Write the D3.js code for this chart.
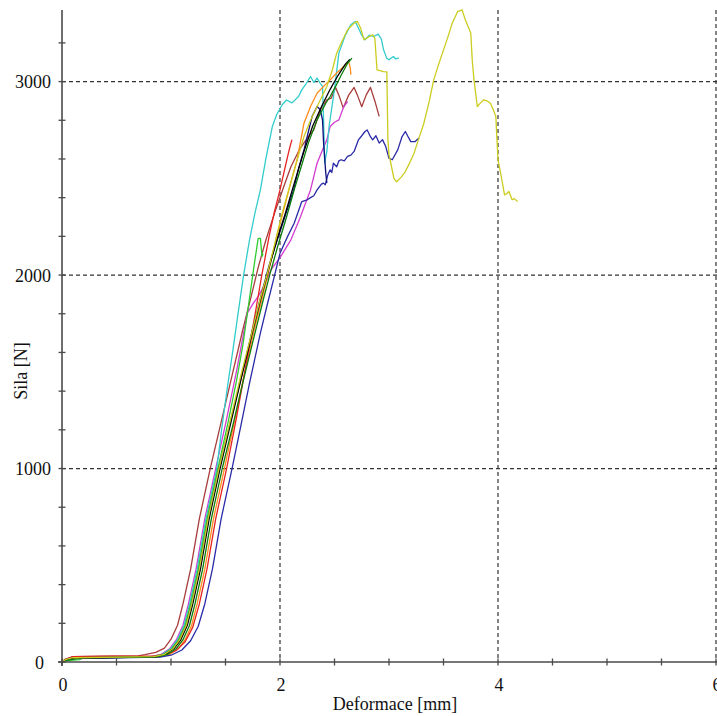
<!DOCTYPE html>
<html>
<head>
<meta charset="utf-8">
<script src="https://cdn.jsdelivr.net/npm/d3@7/dist/d3.min.js"></script>
<style>
  html, body { margin: 0; padding: 0; background: #fff; }
  svg { display: block; }
  text { font-family: "Liberation Serif", "Times New Roman", serif; fill: #111; }
</style>
</head>
<body>
<svg id="chart" width="717" height="716"></svg>
<script>
// Force–deformation records, one array of [deformation mm, force N] per specimen
const maroon = [[0,0],[0.03,14],[0.1,28],[0.4,30],[0.7,32],[0.76,38],[0.86,50],[0.94,72],[1.0,118],[1.06,190],[1.11,300],[1.18,480],[1.26,740],[1.36,1000],[1.46,1240],[1.56,1480],[1.66,1720],[1.74,1900],[1.8,2040],[1.87,2180],[1.95,2320],[2.03,2450],[2.1,2560],[2.18,2650],[2.24,2700],[2.31,2751],[2.37,2854],[2.43,2906],[2.47,2914],[2.51,2970],[2.54,2930],[2.58,2864],[2.63,2930],[2.68,2970],[2.71,2930],[2.75,2870],[2.79,2930],[2.83,2970],[2.87,2900],[2.91,2820]];
const magenta = [[0,0],[0.03,12],[0.1,22],[0.5,25],[0.81,28],[0.91,40],[0.99,70],[1.05,115],[1.11,190],[1.16,300],[1.23,480],[1.31,740],[1.41,1000],[1.5,1230],[1.6,1500],[1.66,1680],[1.7,1803],[1.75,1850],[1.8,1890],[1.85,1940],[1.92,2030],[2.0,2090],[2.1,2182],[2.18,2290],[2.24,2380],[2.28,2440],[2.34,2578],[2.39,2647],[2.43,2700],[2.46,2768],[2.5,2790],[2.54,2802],[2.585,2871],[2.62,2897]];
const cyan = [[0,0],[0.03,12],[0.1,20],[0.5,23],[0.82,26],[0.92,40],[1.0,70],[1.06,115],[1.12,190],[1.17,300],[1.24,480],[1.32,740],[1.42,1000],[1.468,1217],[1.52,1430],[1.57,1620],[1.62,1820],[1.666,2000],[1.72,2180],[1.77,2320],[1.82,2440],[1.87,2600],[1.93,2768],[1.97,2830],[2.02,2880],[2.06,2905],[2.11,2890],[2.17,2923],[2.2,2957],[2.24,2990],[2.28,3026],[2.31,2995],[2.34,3018],[2.37,2990],[2.39,2975],[2.4,2800],[2.41,2578],[2.43,2640],[2.45,2768],[2.5,2960],[2.54,3147],[2.6,3240],[2.65,3294],[2.69,3311],[2.72,3276],[2.75,3240],[2.78,3216],[2.82,3240],[2.86,3233],[2.9,3245],[2.93,3220],[2.95,3164],[2.98,3120],[3.0,3113],[3.04,3130],[3.06,3118],[3.09,3121]];
const lime = [[0,0],[0.03,6],[0.1,10],[0.16,12],[0.2,22],[0.5,24],[0.83,27],[0.93,40],[1.01,70],[1.07,115],[1.13,190],[1.18,300],[1.25,480],[1.33,740],[1.43,1000],[1.52,1230],[1.6,1450],[1.66,1640],[1.7,1800],[1.75,2000],[1.77,2078],[1.8,2190],[1.82,2190],[1.835,2096],[1.845,2110]];
const yellow = [[0,0],[0.03,12],[0.1,22],[0.5,25],[0.84,28],[0.94,40],[1.02,70],[1.08,115],[1.14,190],[1.19,300],[1.26,480],[1.34,740],[1.44,1000],[1.54,1240],[1.64,1480],[1.74,1700],[1.82,1880],[1.88,2000],[1.96,2180],[2.02,2320],[2.08,2440],[2.15,2580],[2.22,2716],[2.28,2800],[2.34,2871],[2.43,2975],[2.48,3060],[2.52,3147],[2.57,3210],[2.62,3268],[2.68,3302],[2.71,3311],[2.74,3276],[2.77,3216],[2.81,3230],[2.85,3242],[2.87,3225],[2.89,3061],[2.95,3052],[2.98,3050],[2.99,2700],[3.0,2620],[3.01,2596],[3.045,2500],[3.07,2482],[3.11,2505],[3.15,2535],[3.19,2580],[3.23,2630],[3.27,2700],[3.32,2785],[3.37,2900],[3.41,3009],[3.45,3080],[3.49,3147],[3.54,3230],[3.58,3302],[3.63,3362],[3.67,3371],[3.7,3319],[3.75,3251],[3.765,3100],[3.78,3009],[3.81,2871],[3.84,2890],[3.87,2906],[3.9,2900],[3.93,2888],[3.96,2850],[3.98,2820],[4.0,2596],[4.03,2509],[4.06,2415],[4.08,2420],[4.1,2432],[4.13,2389],[4.15,2395],[4.18,2380]];
const navy = [[0,0],[0.03,12],[0.1,22],[0.5,24],[0.84,27],[0.94,40],[1.02,70],[1.08,115],[1.14,190],[1.19,300],[1.26,480],[1.34,740],[1.44,1000],[1.54,1230],[1.64,1460],[1.74,1700],[1.82,1880],[1.9,2050],[1.98,2190],[2.05,2310],[2.125,2440],[2.17,2550],[2.22,2647],[2.26,2740],[2.295,2820],[2.34,2871],[2.37,2854],[2.39,2802],[2.4,2682],[2.42,2527],[2.43,2475]];
const black = [[0,0],[0.03,10],[0.1,20],[0.5,23],[0.85,26],[0.95,40],[1.03,70],[1.09,115],[1.15,190],[1.2,300],[1.27,480],[1.35,740],[1.45,1000],[1.55,1240],[1.65,1480],[1.75,1710],[1.83,1890],[1.9,2040],[1.97,2180],[2.05,2321],[2.14,2492],[2.22,2640],[2.3,2770],[2.38,2870],[2.46,2960],[2.53,3030],[2.6,3090],[2.64,3115]];
const darkGreen = [[0,0],[0.03,8],[0.1,14],[0.16,22],[0.5,24],[0.87,27],[0.97,40],[1.05,70],[1.11,115],[1.17,190],[1.22,300],[1.29,480],[1.37,740],[1.47,1000],[1.57,1230],[1.67,1470],[1.77,1700],[1.85,1880],[1.91,2010],[1.98,2150],[2.06,2300],[2.13,2440],[2.2,2570],[2.26,2682],[2.34,2802],[2.42,2888],[2.46,2923],[2.51,2975],[2.555,3026],[2.62,3095],[2.66,3121]];
const orange = [[0,0],[0.03,12],[0.1,22],[0.5,24],[0.89,27],[0.99,40],[1.07,70],[1.13,115],[1.19,190],[1.24,300],[1.31,480],[1.39,740],[1.49,1000],[1.58,1240],[1.67,1480],[1.76,1710],[1.84,1890],[1.9,2030],[1.97,2200],[2.04,2350],[2.1,2480],[2.157,2596],[2.22,2785],[2.28,2871],[2.34,2940],[2.4,2975],[2.46,3009],[2.52,3044],[2.585,3078],[2.63,3104],[2.645,3070],[2.65,3035]];
const red = [[0,0],[0.03,14],[0.1,28],[0.5,30],[0.85,32],[0.95,38],[1.05,60],[1.13,105],[1.2,180],[1.26,300],[1.33,480],[1.41,740],[1.51,1000],[1.6,1260],[1.68,1510],[1.76,1760],[1.83,1990],[1.9,2200],[1.95,2330],[2.0,2440],[2.04,2540],[2.07,2613],[2.09,2660],[2.11,2700]];
const blue = [[0,0],[0.03,10],[0.1,18],[0.5,22],[0.9,25],[1.0,35],[1.1,62],[1.18,110],[1.25,185],[1.31,300],[1.38,480],[1.46,740],[1.56,1000],[1.636,1208],[1.72,1440],[1.82,1700],[1.88,1840],[1.94,1975],[2.0,2113],[2.07,2200],[2.13,2268],[2.2,2380],[2.25,2389],[2.28,2400],[2.31,2410],[2.34,2440],[2.38,2470],[2.4,2475],[2.415,2466],[2.44,2520],[2.46,2544],[2.475,2530],[2.49,2578],[2.52,2560],[2.54,2590],[2.56,2596],[2.59,2590],[2.62,2613],[2.65,2620],[2.68,2639],[2.72,2699],[2.75,2720],[2.78,2742],[2.8,2750],[2.83,2715],[2.85,2699],[2.88,2720],[2.91,2682],[2.94,2700],[2.97,2664],[3.0,2604],[3.03,2596],[3.08,2647],[3.12,2716],[3.15,2742],[3.18,2710],[3.2,2690],[3.24,2690],[3.275,2708]];

// Specimen drawing order and line colours
const seriesNames = ["maroon", "magenta", "cyan", "lime", "orange", "red", "blue", "navy", "black", "darkGreen", "yellow"];
const seriesValues = [maroon, magenta, cyan, lime, orange, red, blue, navy, black, darkGreen, yellow];
const seriesColors = ["#a83c3c", "#d23cd2", "#33cccc", "#2ecc2e", "#ff8c1a", "#e62222", "#2a2aa8", "#10107e", "#000000", "#0b7d0b", "#cccc20"];

// Axis ticks
const xMajorTicks = [0, 2, 4, 6];
const xTickLabels = ["0", "2", "4", "6"];
const xMinorTicks = [0.5, 1, 1.5, 2.5, 3, 3.5, 4.5, 5, 5.5];
const yMajorTicks = [0, 1000, 2000, 3000];
const yTickLabels = ["0", "1000", "2000", "3000"];
const yMinorTicks = [200, 400, 600, 800, 1200, 1400, 1600, 1800, 2200, 2400, 2600, 2800, 3200];
const xTitle = "Deformace [mm]";
const yTitle = "Sila [N]";

const svg = d3.select("#chart");
const W = 717, H = 716;
svg.append("rect").attr("width", W).attr("height", H).attr("fill", "#fff");

const x = d3.scaleLinear().domain([0, 6]).range([62, 716]);
const y = d3.scaleLinear().domain([0, 3370]).range([662, 10]);

const grid = svg.append("g").attr("stroke", "#333").attr("stroke-width", 1.2).attr("stroke-dasharray", "4,3");
// horizontal grid at labelled force levels
grid.selectAll("line.h").data(yMajorTicks.filter(d => d > 0)).join("line")
  .attr("x1", x(0)).attr("x2", W).attr("y1", d => y(d)).attr("y2", d => y(d));
// vertical grid at labelled deformations
grid.selectAll("line.v").data(xMajorTicks.filter(d => d > 0)).join("line")
  .attr("x1", d => x(d)).attr("x2", d => x(d)).attr("y1", y(3370)).attr("y2", y(0));

// curves
const line = d3.line().x(d => x(d[0])).y(d => y(d[1]));
const curves = svg.append("g").attr("fill", "none").attr("stroke-width", 1.3).attr("stroke-linejoin", "round");
curves.selectAll("path").data(seriesValues).join("path")
  .attr("d", line)
  .attr("stroke", (d, i) => seriesColors[i])
  .attr("class", (d, i) => "specimen " + seriesNames[i]);

// axes with crossing tick marks
const axes = svg.append("g").attr("stroke", "#4a4a4a");
axes.append("line").attr("x1", x(0)).attr("x2", x(0)).attr("y1", y(3370)).attr("y2", y(0) + 4).attr("stroke-width", 1.6);
axes.append("line").attr("x1", x(0) - 4).attr("x2", W).attr("y1", y(0)).attr("y2", y(0)).attr("stroke-width", 1.6);
axes.selectAll("line.yt").data(yMajorTicks.concat(yMinorTicks)).join("line")
  .attr("class", "yt").attr("stroke-width", 1.3)
  .attr("x1", x(0) - 3.5).attr("x2", x(0) + 3.5).attr("y1", d => y(d)).attr("y2", d => y(d));
axes.selectAll("line.xt").data(xMajorTicks.concat(xMinorTicks)).join("line")
  .attr("class", "xt").attr("stroke-width", 1.3)
  .attr("x1", d => x(d)).attr("x2", d => x(d)).attr("y1", y(0) - 3.5).attr("y2", y(0) + 3.5);

// tick labels
svg.append("g").selectAll("text").data(yMajorTicks).join("text")
  .attr("x", d => d === 0 ? 44 : 51)
  .attr("y", d => y(d) + 6.5)
  .attr("text-anchor", "end")
  .attr("font-size", 18)
  .text((d, i) => yTickLabels[i]);
svg.append("g").selectAll("text").data(xMajorTicks).join("text")
  .attr("x", d => x(d) + 1)
  .attr("y", 690.5)
  .attr("text-anchor", "middle")
  .attr("font-size", 18)
  .text((d, i) => xTickLabels[i]);

// axis titles
svg.append("text").attr("x", 395).attr("y", 710).attr("text-anchor", "middle").attr("font-size", 18).text(xTitle);
svg.append("text").attr("transform", "translate(27,371) rotate(-90)").attr("text-anchor", "middle").attr("font-size", 18).text(yTitle);
</script>
</body>
</html>
